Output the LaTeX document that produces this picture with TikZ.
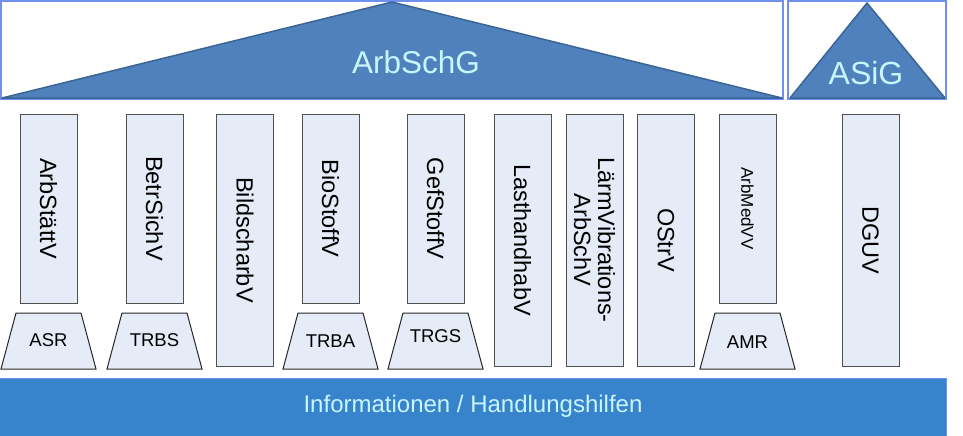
\documentclass[tikz,border=0pt]{standalone}
\usepackage{fontspec}
\setmainfont{Liberation Sans}
\definecolor{roofblue}{HTML}{4F81BD}
\definecolor{roofline}{HTML}{3C6494}
\definecolor{frameblue}{HTML}{7090F0}
\definecolor{pillarfill}{HTML}{E6ECF7}
\definecolor{pillarline}{HTML}{505050}
\definecolor{barblue}{HTML}{3884CC}
\definecolor{lighttext}{HTML}{C8F6FF}
\tikzset{
  frame/.style={draw=frameblue, line width=1.2pt},
  roof/.style={fill=roofblue, draw=roofline, line width=1.5pt, line join=round},
  pillar/.style={draw=pillarline, fill=pillarfill, line width=1pt, rotate=-90,
     minimum height=57pt, inner sep=0pt, font=\fontsize{23.5}{24}\selectfont, align=center},
  trap/.style={draw=black!85, fill=pillarfill, line width=1pt},
  traplabel/.style={font=\fontsize{18.5}{19}\selectfont, inner sep=0pt},
}
\begin{document}
\begin{tikzpicture}[x=1pt,y=-1pt]
\useasboundingbox (0,0) rectangle (963,436);
% roof
\draw[frame] (1,1) rectangle (783,99);
\draw[roof] (2,98) -- (392,2) -- (782,98) -- cycle;
\node[text=lighttext, font=\fontsize{31.5}{33}\selectfont] (arbschg) at (416,62) {ArbSchG};
\draw[frame] (788,1) rectangle (946,99);
\draw[roof] (790,98) -- (867,3) -- (945,98) -- cycle;
\node[text=lighttext, font=\fontsize{32}{33}\selectfont] (asig) at (866,73) {ASiG};
% pillars
\node[pillar, minimum width=189pt] (p1) at (48.5,208.5) {ArbStättV};
\node[pillar, minimum width=189pt] (p2) at (154.5,208.5) {BetrSichV};
\node[pillar, minimum width=252pt] (p3) at (245,240) {BildscharbV};
\node[pillar, minimum width=189pt] (p4) at (330.5,208.5) {BioStoffV};
\node[pillar, minimum width=189pt] (p5) at (435.5,208.5) {GefStoffV};
\node[pillar, minimum width=252pt] (p6) at (522.5,240) {LasthandhabV};
\node[pillar, minimum width=252pt] (p7) at (594.5,240) {LärmVibrations-\\ArbSchV};
\node[pillar, minimum width=252pt] (p8) at (666,240) {OStrV};
\node[pillar, minimum width=189pt, font=\fontsize{17}{18}\selectfont] (p9) at (747.5,208.5) {ArbMedVV};
\node[pillar, minimum width=252pt] (p10) at (870.5,240) {DGUV};
% trapezoids
\draw[trap] (1,369) -- (16,313) -- (81,313) -- (96,369) -- cycle;
\node[traplabel] (asr) at (48.5,340) {ASR};
\draw[trap] (107,369) -- (122,313) -- (187,313) -- (202,369) -- cycle;
\node[traplabel] (trbs) at (154.5,340) {TRBS};
\draw[trap] (283,369) -- (298,313) -- (363,313) -- (378,369) -- cycle;
\node[traplabel] (trba) at (330.5,341) {TRBA};
\draw[trap] (388,369) -- (403,313) -- (468,313) -- (483,369) -- cycle;
\node[traplabel] (trgs) at (435.5,336) {TRGS};
\draw[trap] (700,369) -- (715,313) -- (780,313) -- (795,369) -- cycle;
\node[traplabel] (amr) at (747.5,342) {AMR};
% base bar
\fill[barblue] (0,378) rectangle (946,436);
\draw[frameblue, line width=1pt] (0,378.5) -- (946,378.5) -- (946,436);
\node[text=lighttext, font=\fontsize{24}{26}\selectfont] (info) at (473,406) {Informationen / Handlungshilfen};
\end{tikzpicture}
\end{document}
